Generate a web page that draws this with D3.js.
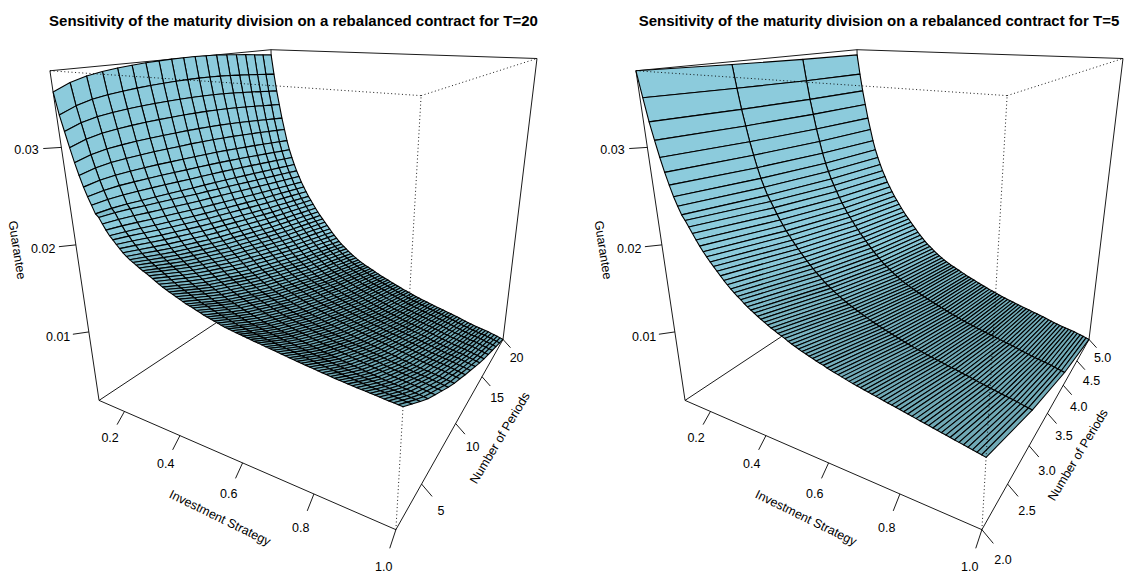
<!DOCTYPE html>
<html><head><meta charset="utf-8">
<script src="https://cdnjs.cloudflare.com/ajax/libs/d3/7.8.5/d3.min.js"></script>
<style>html,body{margin:0;background:#fff}svg{display:block}text{font-family:"Liberation Sans",Arial,sans-serif;fill:#000}</style>
</head><body><svg id="c" width="1128" height="575"></svg>
<script>
// ---- data (guarantee in units of 1e-5, one value per strategy 0.10, 0.11, ... 1.00)
const strategies = d3.range(91).map(i => (10 + i) / 100);
const periodsT20 = d3.range(2, 21);
const periodsT5 = [2, 3, 4, 5];
const t20AtFirstPeriod = [3520,3310,3160,3010,2870,2750,2640,2550,2470,2390,2360,2300,2245,2195,2160,2120,2085,2050,2020,1995,1975,1955,1935,1915,1900,1880,1860,1840,1820,1800,1785,1770,1755,1740,1725,1710,1695,1685,1675,1660,1650,1635,1625,1615,1605,1595,1585,1575,1570,1562,1555,1549,1543,1537,1531,1525,1520,1514,1508,1503,1497,1491,1485,1479,1473,1468,1462,1456,1451,1446,1441,1435,1430,1425,1420,1415,1411,1407,1403,1399,1395,1391,1388,1384,1381,1377,1374,1370,1367,1363,1360];
const lastPeriodBoth = [3640,3380,3150,2960,2770,2610,2450,2320,2210,2110,2020,1940,1860,1790,1725,1660,1605,1550,1495,1445,1395,1350,1305,1260,1215,1170,1130,1090,1050,1015,985,955,925,895,870,845,820,800,780,760,745,725,710,690,675,655,640,625,610,595,580,565,550,535,520,507,494,480,468,455,443,432,420,410,398,388,378,368,358,348,338,328,318,308,298,285,272,262,250,240,230,220,212,204,196,188,176,165,154,142,130];
const t5AtFirstPeriod = [3710,3470,3250,3080,2920,2780,2660,2550,2460,2380,2330,2270,2210,2150,2095,2045,2000,1955,1915,1875,1835,1795,1760,1725,1695,1665,1640,1610,1585,1560,1540,1515,1495,1475,1455,1435,1420,1400,1385,1370,1350,1335,1320,1305,1290,1280,1265,1255,1240,1230,1220,1205,1195,1185,1175,1165,1155,1145,1135,1127,1119,1111,1103,1095,1087,1079,1071,1063,1055,1047,1039,1031,1023,1015,1007,999,991,983,975,967,959,951,943,935,927,919,911,903,895,887,879];
const t20PeriodShare = [0,.083,.165,.243,.31,.375,.44,.5,.551,.605,.655,.705,.755,.8,.84,.88,.92,.96,1];
const t5PeriodShare = [0,.43,.77,1];
const t20ArchByPeriod = [0,.45,.72,.85,.93,.98,1,1,1,.97,.93,.86,.78,.68,.55,.42,.28,.14,0];
const t20ArchByStrategy = [125,120,115,110,100,90,80,70,60,50,42,36,30,25,20,16,12,9,6,4,2].concat(d3.range(70).map(() => 0));
const xTicks = [0.2,0.4,0.6,0.8,1.0];
const zTicks = [0.01,0.02,0.03];
const yTicksT20 = [5,10,15,20];
const yTicksT5 = [2.0,2.5,3.0,3.5,4.0,4.5,5.0];
const guaranteeUnit = 1e-5;
const zDomain = [0.0013,0.0371];

// box corners on the page: [unit x, unit y, unit z, px, py]
const boxAnchors = [[0,0,0,99,400],[1,0,0,396,530],[1,1,0,503,339],[0,1,0,277,283],[0,0,1,50,70],[1,0,1,421,97],[1,1,1,537,58],[0,1,1,271,50]];

function solve(A,b){const n=b.length;A=A.map((r,i)=>[...r,b[i]]);
  for(let i=0;i<n;i++){let m=i;for(let k=i+1;k<n;k++)if(Math.abs(A[k][i])>Math.abs(A[m][i]))m=k;[A[i],A[m]]=[A[m],A[i]];
    for(let k=i+1;k<n;k++){const f=A[k][i]/A[i][i];for(let j=i;j<=n;j++)A[k][j]-=f*A[i][j];}}
  const x=Array(n).fill(0);for(let i=n-1;i>=0;i--){let s=A[i][n];for(let j=i+1;j<n;j++)s-=A[i][j]*x[j];x[i]=s/A[i][i];}return x;}
const rows=[],rhs=[];
boxAnchors.forEach(([x,y,z,u,v])=>{rows.push([x,y,z,1,0,0,0,0,-u*x,-u*y,-u*z]);rhs.push(u);rows.push([0,0,0,0,x,y,z,1,-v*x,-v*y,-v*z]);rhs.push(v);});
const N=rows[0].map((_,i)=>rows[0].map((_,j)=>d3.sum(rows,r=>r[i]*r[j])));
const Nb=rows[0].map((_,i)=>d3.sum(rows,(r,k)=>r[i]*rhs[k]));
const m=solve(N,Nb);
const proj=(x,y,z)=>{const w=m[8]*x+m[9]*y+m[10]*z+1;return[(m[0]*x+m[1]*y+m[2]*z+m[3])/w,(m[4]*x+m[5]*y+m[6]*z+m[7])/w];};

const svg=d3.select("#c");
const steep=d3.interpolateRgb("#6aa2ae","#8ccbdc");

function panel(opt){
  const g=svg.append("g").attr("transform",`translate(${opt.dx},0)`);
  const sx=d3.scaleLinear().domain(d3.extent(strategies)).range([0,1]);
  const sy=d3.scaleLinear().domain(d3.extent(opt.periods)).range([0,1]);
  const sz=d3.scaleLinear().domain(zDomain).range([0,1]);
  const line=d3.line();
  const P=(x,y,z)=>proj(sx(x),sy(y),sz(z));
  const seg=(a,b,dash)=>{const l=g.append("path").attr("d",line([proj(...a),proj(...b)])).attr("fill","none").attr("stroke","#000").attr("stroke-width",0.9);if(dash)l.attr("stroke-dasharray","1 2.6");};
  [[[0,0,0],[1,0,0]],[[1,0,0],[1,1,0]],[[1,1,0],[0,1,0]],[[0,1,0],[0,0,0]],[[0,0,0],[0,0,1]],[[0,1,0],[0,1,1]],[[1,1,0],[1,1,1]],[[0,0,1],[0,1,1]],[[0,1,1],[1,1,1]]].forEach(s=>seg(...s));
  const tick=(from,to,lab,txt)=>{g.append("path").attr("d",line([proj(...from),proj(...to)])).attr("stroke","#000").attr("stroke-width",0.9).attr("fill","none");
    const p=proj(...lab);g.append("text").attr("x",p[0]).attr("y",p[1]).attr("text-anchor","middle").attr("dominant-baseline","central").attr("font-size",12.5).text(txt);};
  xTicks.forEach(t=>{const u=sx(t);tick([u,0,0],[u,-.033,-.026],[u,-.064,-.053],d3.format(".1f")(t));});
  opt.yTicks.forEach(t=>{const u=sy(t);tick([1,u,0],[1.03,u,-.026],[1.056,u,-.062],opt.yFmt(t));});
  zTicks.forEach(t=>{const u=sz(t);tick([0,0,u],[-.03,-.033,u],[-.056,-.064,u],d3.format(".2f")(t));});
  const grid=strategies.map((x,i)=>opt.periods.map((y,j)=>opt.value(i,j)*guaranteeUnit));
  const facets=[];
  for(let i=0;i<strategies.length-1;i++)for(let j=opt.periods.length-2;j>=0;j--){
    const q=[[i,j],[i+1,j],[i+1,j+1],[i,j+1]];
    const slope=Math.abs(sz(grid[i][j])-sz(grid[i+1][j]))/(sx(strategies[i+1])-sx(strategies[i]));
    facets.push({pts:q.map(([a,b])=>P(strategies[a],opt.periods[b],grid[a][b])),slope});
  }
  g.append("g").selectAll("path").data(facets).join("path")
    .attr("d",d=>line(d.pts)+"Z").attr("fill",d=>steep(Math.min(1,d.slope/1.1)))
    .attr("stroke","#000").attr("stroke-width",1.1).attr("stroke-linejoin","round");
  [[[0,0,1],[1,0,1]],[[1,0,1],[1,1,1]],[[1,0,0],[1,0,1]]].forEach(s=>seg(...s,true));
  g.append("text").attr("x",opt.titleX).attr("y",26).attr("text-anchor","middle").attr("font-weight","bold").attr("font-size",15).text(opt.title);
  const rot=(t,x,y,a)=>g.append("text").attr("transform",`translate(${x},${y}) rotate(${a})`).attr("text-anchor","middle").attr("dominant-baseline","central").attr("font-size",12.5).text(t);
  rot("Investment Strategy",220,518,26);
  rot("Number of Periods",opt.yLab[0],opt.yLab[1],-59);
  rot("Guarantee",17,250,81);
}
panel({dx:0,periods:periodsT20,yTicks:yTicksT20,yFmt:d3.format("d"),yLab:[500,438],titleX:293.5,
  title:"Sensitivity of the maturity division on a rebalanced contract for T=20",
  value:(i,j)=>t20AtFirstPeriod[i]+t20PeriodShare[j]*(lastPeriodBoth[i]-t20AtFirstPeriod[i])+t20ArchByStrategy[i]*t20ArchByPeriod[j]});
panel({dx:586,periods:periodsT5,yTicks:yTicksT5,yFmt:d3.format(".1f"),yLab:[492,455],titleX:293,
  title:"Sensitivity of the maturity division on a rebalanced contract for T=5",
  value:(i,j)=>t5AtFirstPeriod[i]+t5PeriodShare[j]*(lastPeriodBoth[i]-t5AtFirstPeriod[i])});
</script></body></html>
